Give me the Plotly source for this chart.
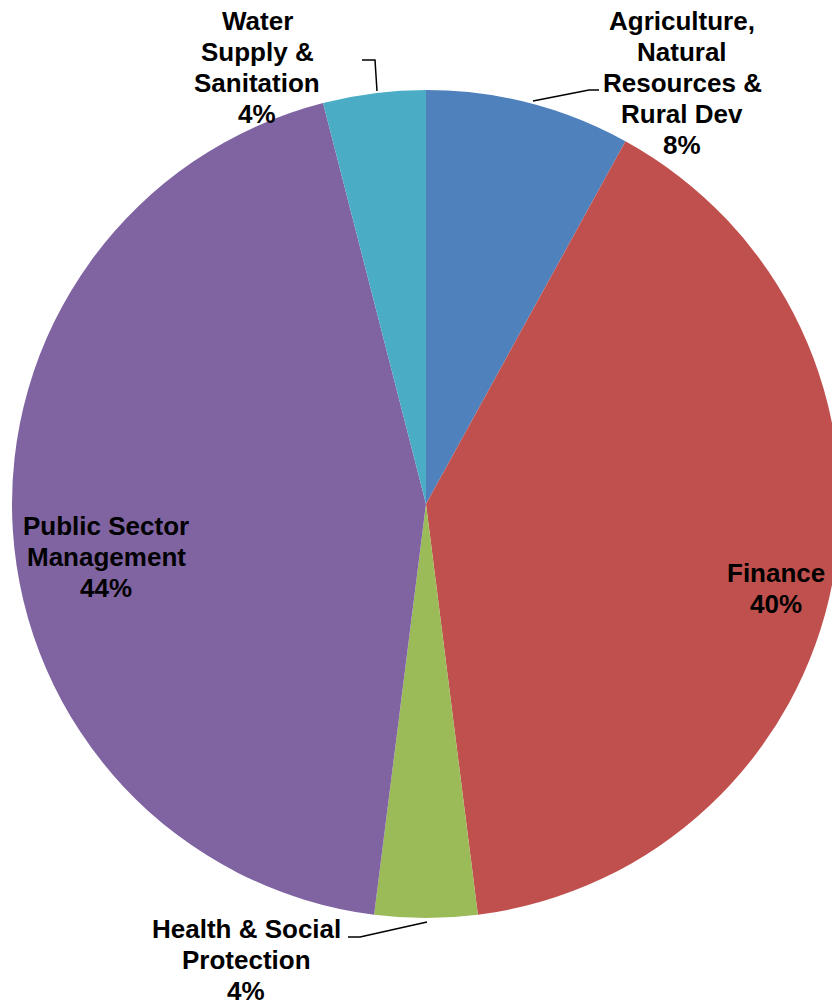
import plotly.graph_objects as go

# Data
sectors = ["Agriculture, Natural Resources & Rural Dev", "Finance", "Health & Social Protection",
           "Public Sector Management", "Water Supply & Sanitation"]
shares = [8, 40, 4, 44, 4]
colors = ["#4F81BD", "#C0504D", "#9BBB59", "#8064A2", "#4BACC6"]
label_lines = [
    ["Agriculture,", "Natural", "Resources &", "Rural Dev", "8%"],
    ["Finance", "40%"],
    ["Health & Social", "Protection", "4%"],
    ["Public Sector", "Management", "44%"],
    ["Water", "Supply &", "Sanitation", "4%"],
]

# page has an 8px body margin; the figure is sized to fit the 840x1001 window
OFF = 8
W, H = 840 - OFF, 1001 - OFF
LINE = 31
# label centres in reference pixels (x, y)
label_pos = [(682, 83), (776, 588), (246, 960), (106, 557), (257, 67)]

def px(x):
    return (x - OFF) / W

def py(y):
    return 1 - (y - OFF) / H

cx, cy, r = 426, 504, 414
fig = go.Figure(go.Pie(
    labels=sectors, values=shares, sort=False, direction="clockwise", rotation=0,
    marker=dict(colors=colors, line=dict(width=0)),
    textinfo="none", hoverinfo="label+percent",
    domain=dict(x=[px(cx - r), min(1.0, px(cx + r))], y=[py(cy + r), py(cy - r)]),
    showlegend=False,
))

annotations = []
for lines, (x, y) in zip(label_lines, label_pos):
    n = len(lines)
    for i, t in enumerate(lines):
        yy = y + (i - (n - 1) / 2) * LINE
        annotations.append(dict(
            x=px(x), y=py(yy), xref="paper", yref="paper", text=f"<b>{t}</b>", showarrow=False,
            xanchor="center", yanchor="middle", align="center",
            font=dict(family="Liberation Sans, Arial", size=26, color="#000000"),
        ))

leaders = [
    [(533, 101), (589, 90), (599, 90)],
    [(362, 60), (375, 60), (377, 91)],
    [(348, 937), (360, 937), (427, 922)],
]
shapes = []
for pts in leaders:
    path = "M " + " L ".join(f"{px(a)},{py(b)}" for a, b in pts)
    shapes.append(dict(type="path", path=path, xref="paper", yref="paper",
                       line=dict(color="#000000", width=1.5)))

fig.update_layout(
    width=W, height=H, margin=dict(l=0, r=0, t=0, b=0),
    paper_bgcolor="white", plot_bgcolor="white",
    annotations=annotations, shapes=shapes,
)
fig.write_html("out.html")
